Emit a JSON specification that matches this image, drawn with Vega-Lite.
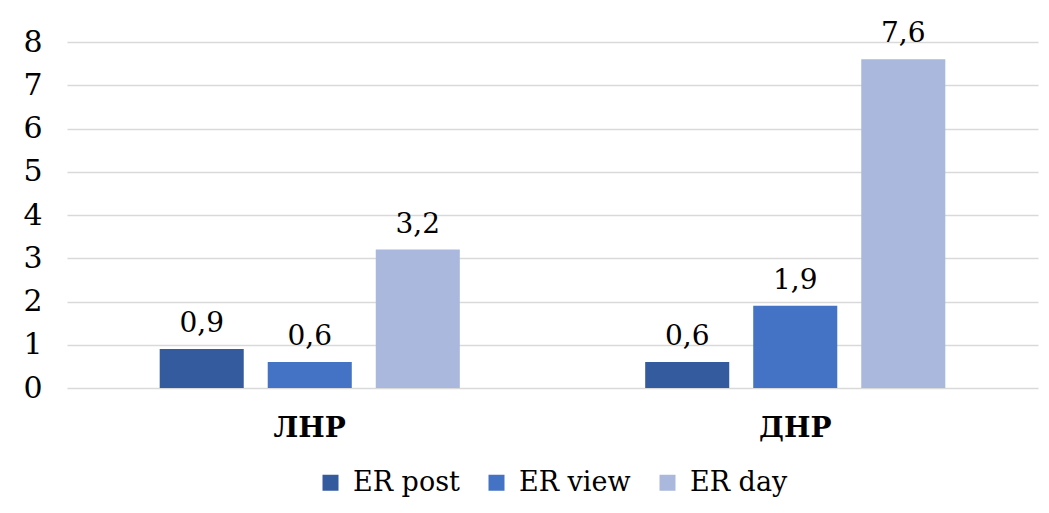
{
  "$schema": "https://vega.github.io/schema/vega-lite/v6.json",
  "width": 971,
  "height": 346,
  "autosize": {"type": "none"},
  "padding": {"left": 67, "top": 42, "right": 11, "bottom": 125},
  "background": "white",
  "config": {
    "font": "DejaVu Serif",
    "view": {"stroke": null},
    "locale": {"number": {"decimal": ",", "thousands": " ", "grouping": [3], "currency": ["", ""]}}
  },
  "data": {
    "values": [
      {"region": "ЛНР", "metric": "ER post", "value": 0.9},
      {"region": "ЛНР", "metric": "ER view", "value": 0.6},
      {"region": "ЛНР", "metric": "ER day", "value": 3.2},
      {"region": "ДНР", "metric": "ER post", "value": 0.6},
      {"region": "ДНР", "metric": "ER view", "value": 1.9},
      {"region": "ДНР", "metric": "ER day", "value": 7.6}
    ]
  },
  "encoding": {
    "x": {
      "field": "region", "type": "nominal", "sort": null,
      "scale": {"paddingInner": 0, "paddingOuter": 0},
      "axis": {"title": null, "labelAngle": 0, "labelFont": "DejaVu Serif", "labelFontSize": 28, "labelFontWeight": "bold", "labelColor": "#000000", "labelPadding": 26, "domain": false, "ticks": false, "grid": false}
    },
    "xOffset": {
      "field": "metric", "type": "nominal", "sort": ["ER post", "ER view", "ER day"],
      "scale": {"paddingInner": 0.222, "paddingOuter": 0.858}
    },
    "y": {
      "field": "value", "type": "quantitative",
      "scale": {"domain": [0, 8], "nice": false},
      "axis": {"title": null, "values": [0, 1, 2, 3, 4, 5, 6, 7, 8], "labelFont": "DejaVu Serif", "labelFontSize": 30, "labelColor": "#000000", "labelAlign": "left", "labelPadding": 44, "domain": false, "ticks": false, "gridColor": "#d9d9d9", "gridWidth": 1.5}
    }
  },
  "layer": [
    {
      "mark": {"type": "bar"},
      "encoding": {
        "color": {
          "field": "metric", "type": "nominal", "sort": ["ER post", "ER view", "ER day"],
          "scale": {"domain": ["ER post", "ER view", "ER day"], "range": ["#355b9f", "#4472c4", "#a9b8dc"]},
          "legend": {
            "title": null, "orient": "none", "direction": "horizontal",
            "legendX": 250, "legendY": 427,
            "symbolType": "square", "symbolSize": 256, "symbolStrokeWidth": 0,
            "labelFont": "DejaVu Serif", "labelFontSize": 27, "labelColor": "#000000",
            "labelOffset": 9, "columnPadding": 23, "symbolOffset": 0
          }
        }
      }
    },
    {
      "mark": {"type": "text", "baseline": "alphabetic", "dy": -17, "font": "DejaVu Serif", "fontSize": 28, "color": "#000000"},
      "encoding": {
        "text": {"field": "value", "type": "quantitative", "format": ".1f"}
      }
    }
  ]
}
